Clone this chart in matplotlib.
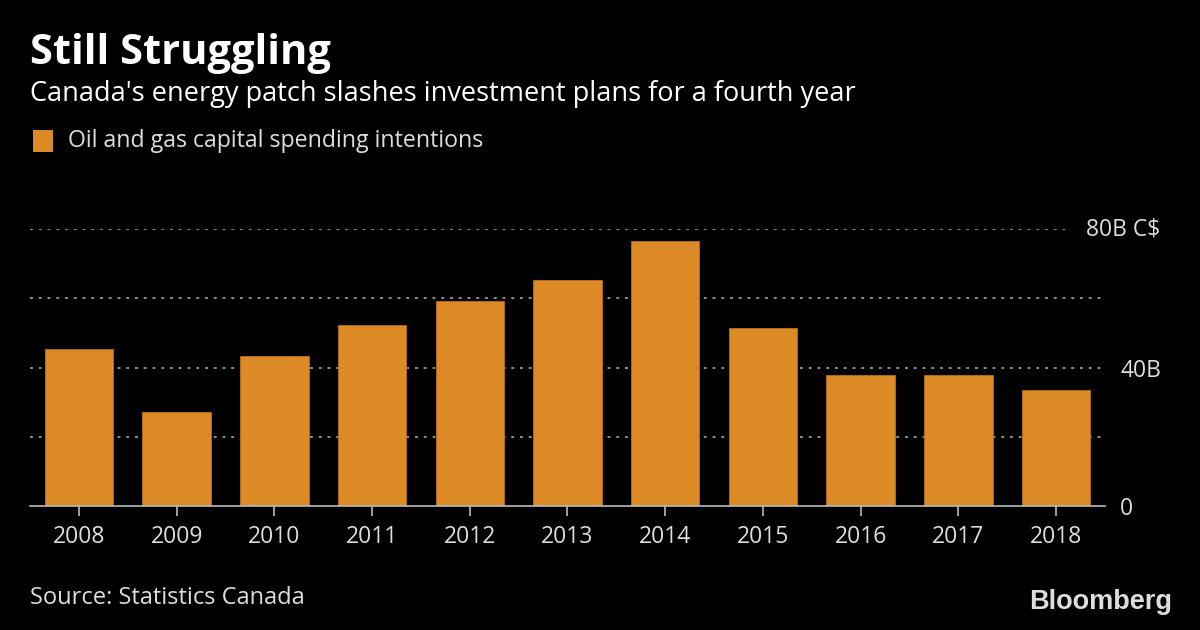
import matplotlib
matplotlib.use("Agg")
import matplotlib.pyplot as plt
from matplotlib.patches import Rectangle
from matplotlib.transforms import blended_transform_factory

years = ["2008", "2009", "2010", "2011", "2012", "2013", "2014", "2015", "2016", "2017", "2018"]
spending = [45.3, 27.1, 43.3, 52.3, 59.2, 65.3, 76.5, 51.4, 37.8, 37.8, 33.5]
ytick_vals = [0, 40]
ytick_labels = ["0", "40B"]
top_val = 80
top_label = "80B C$"
grid_vals = [20, 40, 60]

BAR = "#dc8a26"
FONT = ["Open Sans", "DejaVu Sans"]

fig = plt.figure(figsize=(12, 6.3), dpi=100, facecolor="black")
ax = fig.add_axes([0.025, 0.1968, 0.8958, 0.4397], facecolor="black")

x = list(range(len(years)))
ax.bar(x, spending, width=0.70, color=BAR, edgecolor="#b86f18", linewidth=0.6, zorder=3)

ax.set_xlim(-0.5, 10.5)
ax.set_ylim(0, 80)

grid_style = dict(color="#8c8c8c", linestyle=(0, (1.5, 3)), linewidth=1.4, zorder=1)
for g in grid_vals:
    ax.axhline(g, xmax=0.998, **grid_style)
ax.axhline(top_val, xmax=0.967, **grid_style)

for s in ["top", "left", "right"]:
    ax.spines[s].set_visible(False)
ax.spines["bottom"].set_color("#bbbbbb")
ax.spines["bottom"].set_linewidth(1.2)
ax.spines["bottom"].set_zorder(4)

ax.set_xticks(x)
ax.set_xticklabels(years, fontfamily=FONT, fontsize=16.5, color="#dddddd")
ax.tick_params(axis="x", length=7, width=1.2, color="#bbbbbb", pad=7)

ax.yaxis.tick_right()
ax.set_yticks(ytick_vals)
ax.set_yticklabels(ytick_labels, fontfamily=FONT, fontsize=16.5, color="#dddddd")
ax.tick_params(axis="y", length=0, pad=11)

trans = blended_transform_factory(fig.transFigure, ax.transData)
ax.text(1160 / 1200, top_val, top_label, transform=trans,
        fontfamily=FONT, fontsize=16.5, color="#dddddd", ha="right", va="center")

fig.text(0.025, 0.915, "Still Struggling", fontfamily=FONT, fontsize=30, fontweight="bold",
         color="white", va="center", ha="left")
fig.text(0.025, 0.851, "Canada's energy patch slashes investment plans for a fourth year",
         fontfamily=FONT, fontsize=19.5, color="white", va="center", ha="left")

fig.patches.append(Rectangle((0.0275, 0.758), 0.0165, 0.035, transform=fig.transFigure,
                             facecolor=BAR, edgecolor="none"))
fig.text(0.0565, 0.776, "Oil and gas capital spending intentions", fontfamily=FONT, fontsize=16.7,
         color="#dddddd", va="center", ha="left")

fig.text(0.025, 0.05, "Source: Statistics Canada", fontfamily=FONT, fontsize=17,
         color="#dddddd", va="center", ha="left")
fig.text(0.977, 0.044, "Bloomberg", fontfamily=["Liberation Sans", "DejaVu Sans"], fontsize=19.5,
         fontweight="bold", color="#dddddd", va="center", ha="right")

fig.savefig("out.png", dpi=100, facecolor="black")
